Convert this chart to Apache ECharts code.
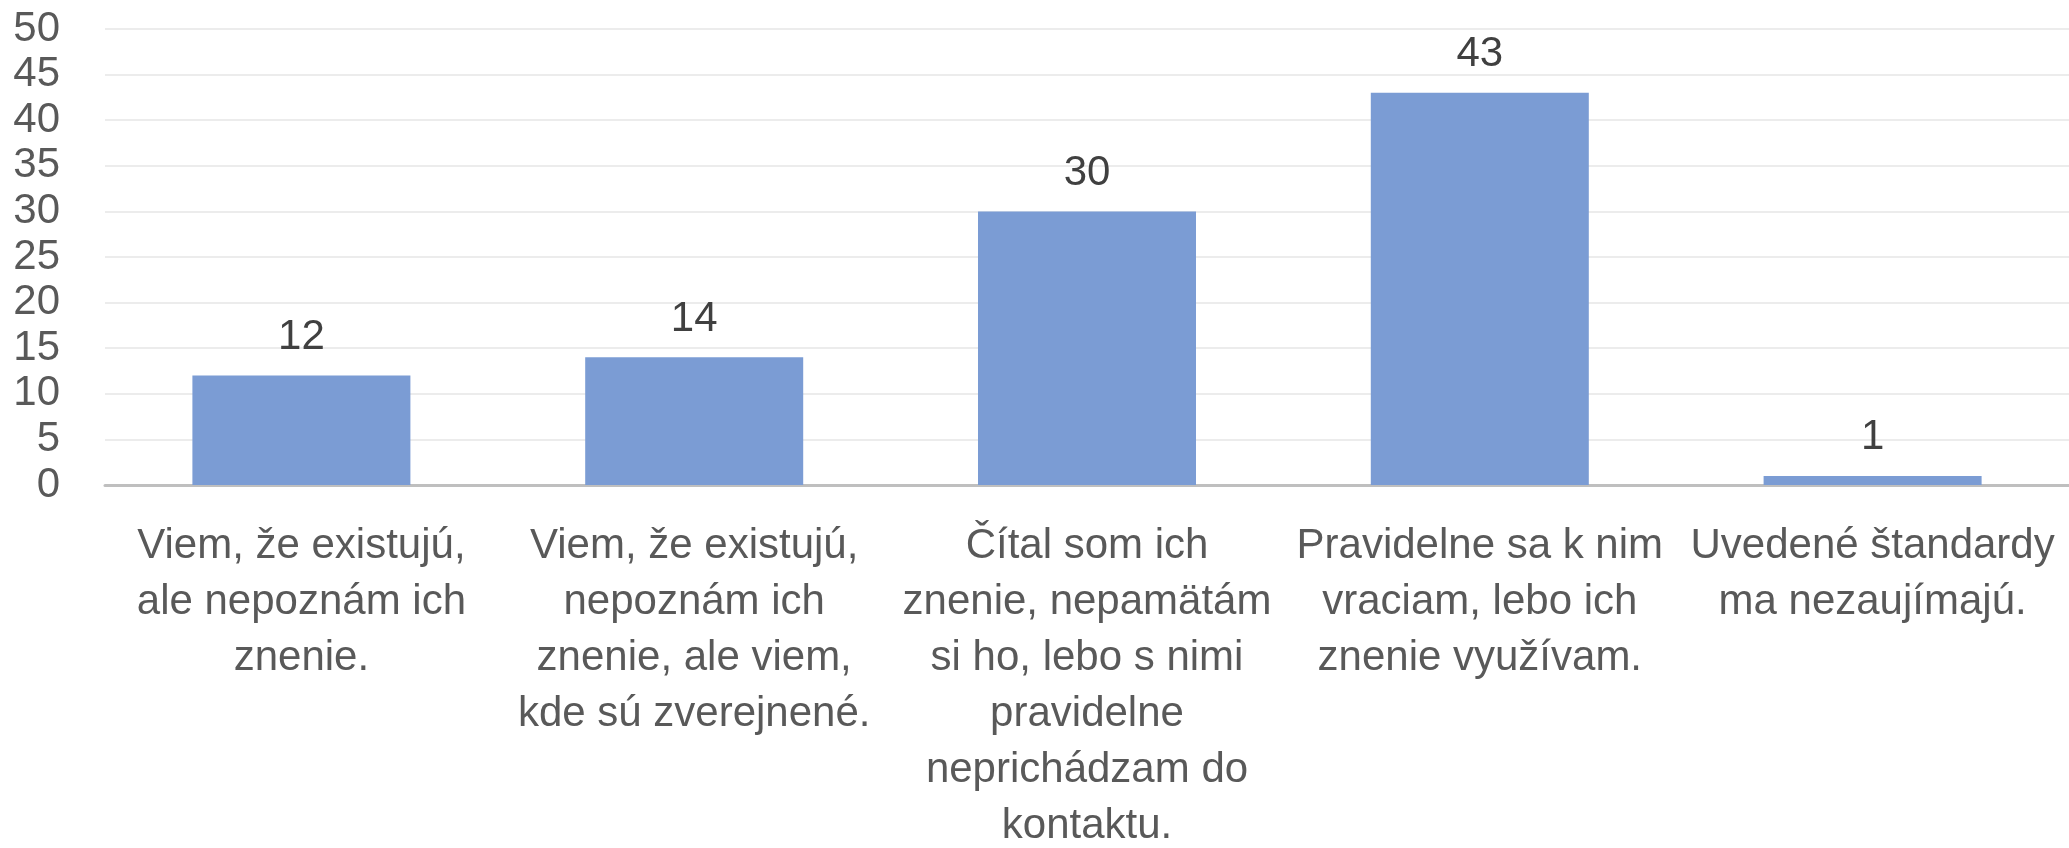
<!DOCTYPE html>
<html>
<head>
<meta charset="utf-8">
<script src="https://cdn.jsdelivr.net/npm/echarts@6/dist/echarts.min.js"></script>
<style>
    html, body { margin: 0; padding: 0; background: #fff; }
    #chart { width: 2069px; height: 848px; }
</style>
</head>
<body>
<div id="chart"></div>
<script>
// kategórie (zalomené ako v origináli)
var categories = [
    'Viem, že existujú,\nale nepoznám ich\nznenie.',
    'Viem, že existujú,\nnepoznám ich\nznenie, ale viem,\nkde sú zverejnené.',
    'Čítal som ich\nznenie, nepamätám\nsi ho, lebo s nimi\npravidelne\nneprichádzam do\nkontaktu.',
    'Pravidelne sa k nim\nvraciam, lebo ich\nznenie využívam.',
    'Uvedené štandardy\nma nezaujímajú.'
];
var values = [12, 14, 30, 43, 1];
var yTicks = [0, 50, 5]; // min, max, krok

var font = '"Liberation Sans", Arial, sans-serif';

var myChart = echarts.init(document.getElementById('chart'));

myChart.setOption({
    animation: false,
    grid: {
        left: 105,
        right: 0,
        top: 29,
        bottom: 363,
        outerBoundsMode: 'none',
        containLabel: false
    },
    xAxis: {
        type: 'category',
        data: categories,
        axisTick: {show: false},
        axisLine: {
            lineStyle: {color: '#bfbfbf', width: 3}
        },
        axisLabel: {
            interval: 0,
            color: '#595959',
            fontFamily: font,
            fontSize: 42,
            lineHeight: 56,
            margin: 33,
            align: 'center'
        }
    },
    yAxis: {
        type: 'value',
        min: yTicks[0],
        max: yTicks[1],
        interval: yTicks[2],
        axisLine: {show: false},
        axisTick: {show: false},
        axisLabel: {
            color: '#595959',
            fontFamily: font,
            fontSize: 42,
            margin: 45
        },
        splitLine: {
            lineStyle: {color: '#ececec', width: 2}   //svetlé mriežky
        }
    },
    series: [{
        type: 'bar',
        data: values,
        barWidth: '55.5%',
        itemStyle: {
            color: '#7b9cd4'
        },
        label: {
            show: true,
            position: 'top',
            distance: 17,
            color: '#404040',
            fontFamily: font,
            fontSize: 42
        }
    }]
});
</script>
</body>
</html>
